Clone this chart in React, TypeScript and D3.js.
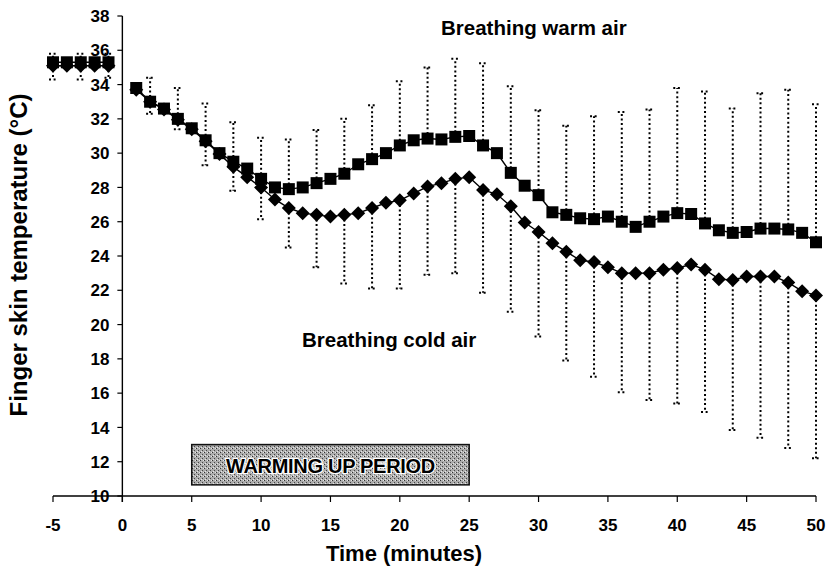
import React from "react";
import * as d3 from "d3";

// minutes: 5 min baseline, then every minute after the start
const time = [
  -5, -4, -3, -2, -1,
  1, 2, 3, 4, 5, 6, 7, 8, 9, 10, 11, 12, 13, 14, 15, 16, 17, 18, 19, 20, 21, 22, 23, 24, 25,
  26, 27, 28, 29, 30, 31, 32, 33, 34, 35, 36, 37, 38, 39, 40, 41, 42, 43, 44, 45, 46, 47, 48, 49, 50,
];

const warmAir = [
  35.3, 35.3, 35.3, 35.3, 35.3,
  33.8, 33.0, 32.6, 32.0, 31.45, 30.75, 30.0, 29.5, 29.1, 28.5, 28.0, 27.9, 28.0, 28.25, 28.5,
  28.8, 29.35, 29.65, 30.0, 30.45, 30.75, 30.85, 30.8, 30.95, 31.0,
  30.45, 30.0, 28.85, 28.1, 27.55, 26.55, 26.4, 26.2, 26.15, 26.3, 26.0, 25.7, 26.0, 26.3, 26.5,
  26.45, 25.9, 25.5, 25.35, 25.4, 25.6, 25.6, 25.55, 25.35, 24.8,
];

const coldAir = [
  35.1, 35.1, 35.1, 35.1, 35.1,
  33.7, 33.0, 32.55, 31.95, 31.4, 30.7, 29.95, 29.2, 28.6, 28.0, 27.3, 26.8, 26.5, 26.4, 26.3,
  26.4, 26.5, 26.8, 27.1, 27.25, 27.65, 28.05, 28.25, 28.5, 28.6,
  27.85, 27.6, 26.9, 25.95, 25.4, 24.75, 24.25, 23.75, 23.65, 23.35, 23.0, 23.0, 23.0, 23.2, 23.3,
  23.5, 23.2, 22.65, 22.6, 22.8, 22.8, 22.8, 22.45, 21.95, 21.7,
];

// error bars (SD): upward for warm air, downward for cold air
const sdTime = [-5, -3, -1, 2, 4, 6, 8, 10, 12, 14, 16, 18, 20, 22, 24, 26, 28, 30, 32, 34, 36, 38, 40, 42, 44, 46, 48, 50];
const warmUpper = [
  35.8, 35.8, 35.8, 34.4, 33.8, 32.9, 31.8, 30.9, 30.8, 31.35, 32.0, 32.8, 34.2, 35.0, 35.5, 35.25,
  33.9, 32.5, 31.6, 32.15, 32.4, 32.55, 33.8, 33.6, 32.6, 33.5, 33.7, 32.85,
];
const coldLower = [
  34.3, 34.3, 34.4, 32.3, 31.4, 29.3, 27.8, 26.15, 24.5, 23.35, 22.4, 22.1, 22.1, 22.9, 23.0, 21.85,
  20.75, 19.3, 17.9, 16.95, 16.05, 15.6, 15.4, 14.9, 13.85, 13.4, 12.8, 12.2,
];

const xTicks = [-5, 0, 5, 10, 15, 20, 25, 30, 35, 40, 45, 50];
const yTicks = [10, 12, 14, 16, 18, 20, 22, 24, 26, 28, 30, 32, 34, 36, 38];

const font = "'Liberation Sans', Arial, sans-serif";

const App = () => {
  const x = d3.scaleLinear().domain([-5, 50]).range([53, 816]);
  const y = d3.scaleLinear().domain([10, 38]).range([496, 16]);

  // baseline and post-start segments are not joined
  const line = d3
    .line<[number, number]>()
    .x((d) => x(d[0]))
    .y((d) => y(d[1]));
  const segs = (vals: number[]) => {
    const pts = time.map((t, i) => [t, vals[i]] as [number, number]);
    return [pts.filter((p) => p[0] < 0), pts.filter((p) => p[0] > 0)];
  };

  const valAt = (vals: number[], t: number) => vals[time.indexOf(t)];

  const sq = 12;
  const dm = 7;
  const dash = "2,2.6";

  return (
    <svg width={839} height={579} style={{ position: "absolute", left: 0, top: 0, background: "#fff" }} fontFamily={font}>
      <defs>
        <pattern id="stipple" width="4" height="4" patternUnits="userSpaceOnUse">
          <rect width="4" height="4" fill="#acacac" />
          <rect x="0" y="0" width="1" height="1" fill="#333" />
          <rect x="2" y="2" width="1" height="1" fill="#444" />
          <rect x="3" y="0" width="1" height="1" fill="#e6e6e6" />
          <rect x="1" y="3" width="1" height="1" fill="#e6e6e6" />
        </pattern>
      </defs>

      {/* warming up period box */}
      <rect
        x={x(5)}
        y={y(13)}
        width={x(25) - x(5)}
        height={y(10.65) - y(13)}
        fill="url(#stipple)"
        stroke="#111"
        strokeWidth={1.5}
      />
      <text
        x={(x(5) + x(25)) / 2}
        y={473}
        textAnchor="middle"
        fontSize={20}
        fontWeight="bold"
        fill="#000"
        stroke="#fff"
        strokeWidth={2.5}
        paintOrder="stroke"
        letterSpacing={-0.3}
      >
        WARMING UP PERIOD
      </text>

      {/* axes */}
      <line x1={x(0)} x2={x(0)} y1={y(38)} y2={y(10) + 6} stroke="#000" strokeWidth={1.4} />
      <line x1={x(-5)} x2={x(50)} y1={y(10)} y2={y(10)} stroke="#000" strokeWidth={1.6} />
      {yTicks.map((t) => (
        <g key={"y" + t}>
          <line x1={x(0) - 5} x2={x(0)} y1={y(t)} y2={y(t)} stroke="#000" strokeWidth={1.2} />
          <text x={x(0) - 13} y={y(t)} dy="0.36em" textAnchor="end" fontSize={17} fontWeight="bold">
            {t}
          </text>
        </g>
      ))}
      {xTicks.map((t) => (
        <g key={"x" + t}>
          <line x1={x(t)} x2={x(t)} y1={y(10)} y2={y(10) + 6} stroke="#000" strokeWidth={1.2} />
          <text x={x(t)} y={531} textAnchor="middle" fontSize={17} fontWeight="bold">
            {t}
          </text>
        </g>
      ))}

      {/* error bars */}
      {sdTime.map((t, i) => {
        const cx = x(t);
        return (
          <g key={"e" + t} stroke="#000" strokeWidth={2} strokeDasharray={dash}>
            <line x1={cx} x2={cx} y1={y(valAt(warmAir, t))} y2={y(warmUpper[i])} />
            <line x1={cx - 4} x2={cx + 4} y1={y(warmUpper[i])} y2={y(warmUpper[i])} />
            <line x1={cx} x2={cx} y1={y(valAt(coldAir, t))} y2={y(coldLower[i])} />
            <line x1={cx - 4} x2={cx + 4} y1={y(coldLower[i])} y2={y(coldLower[i])} />
          </g>
        );
      })}

      {/* lines */}
      {[...segs(warmAir), ...segs(coldAir)].map((s, i) => (
        <path key={"l" + i} d={line(s) || ""} fill="none" stroke="#000" strokeWidth={1.4} />
      ))}

      {/* markers */}
      {time.map((t, i) => (
        <rect
          key={"s" + t}
          x={x(t) - sq / 2}
          y={y(warmAir[i]) - sq / 2}
          width={sq}
          height={sq}
          fill="#000"
        />
      ))}
      {time.map((t, i) => {
        const cx = x(t);
        const cy = y(coldAir[i]);
        return (
          <path
            key={"d" + t}
            d={`M${cx},${cy - dm}L${cx + dm},${cy}L${cx},${cy + dm}L${cx - dm},${cy}Z`}
            fill="#000"
          />
        );
      })}

      {/* annotations */}
      <text x={441} y={35} fontSize={20.5} fontWeight="bold">
        Breathing warm air
      </text>
      <text x={302} y={347} fontSize={20.5} fontWeight="bold">
        Breathing cold air
      </text>

      {/* axis titles */}
      <text
        transform={`translate(27,${255}) rotate(-90)`}
        textAnchor="middle"
        fontSize={24}
        fontWeight="bold"
      >
        Finger skin temperature (°C)
      </text>
      <text x={404} y={561} textAnchor="middle" fontSize={22} fontWeight="bold">
        Time (minutes)
      </text>
    </svg>
  );
};

export default App;
